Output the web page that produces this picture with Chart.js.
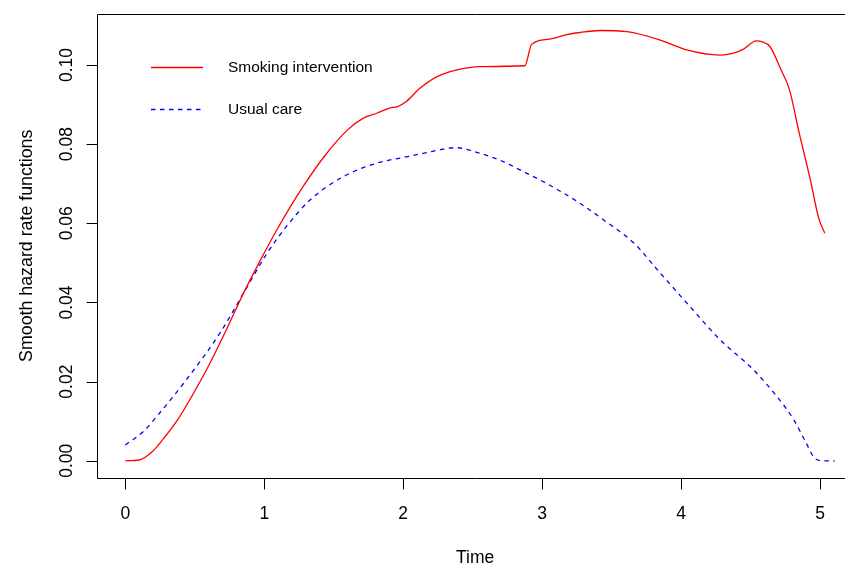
<!DOCTYPE html>
<html>
<head>
<meta charset="utf-8">
<script src="https://cdn.jsdelivr.net/npm/chart.js@4/dist/chart.umd.min.js"></script>
<style>
  html, body { margin: 0; padding: 0; background: #fff; }
  #wrap { width: 845px; height: 566px; overflow: hidden; position: relative; background: #fff; }
  canvas { display: block; }
</style>
</head>
<body>
<div id="wrap"><canvas id="c" width="870" height="566"></canvas></div>
<script>
// ---- Data ----
const smokingTime = [0, 0.1, 0.2, 0.25, 0.37, 0.49, 0.61, 0.73, 0.85, 0.97, 1.09, 1.28, 1.45, 1.6, 1.71, 1.81, 1.9, 1.96, 2.02, 2.12, 2.24, 2.38, 2.55, 2.876, 2.924, 3.05, 3.17, 3.27, 3.42, 3.61, 3.85, 4.04, 4.28, 4.37, 4.45, 4.54, 4.58, 4.64, 4.72, 4.78, 4.85, 4.93, 4.99, 5.034];
const smokingHazard = [0, 0.0002, 0.0025, 0.0045, 0.0100, 0.0170, 0.0247, 0.0333, 0.0423, 0.0505, 0.0583, 0.0693, 0.0777, 0.0836, 0.0865, 0.0878, 0.0891, 0.0895, 0.0907, 0.0941, 0.0970, 0.0987, 0.0996, 0.0998, 0.1052, 0.1065, 0.1076, 0.1082, 0.1087, 0.1084, 0.1063, 0.1038, 0.1025, 0.1029, 0.1040, 0.1061, 0.1059, 0.1046, 0.0987, 0.0937, 0.0828, 0.0710, 0.0613, 0.0575];

const usualTime = [0, 0.13, 0.25, 0.44, 0.68, 0.85, 1.02, 1.16, 1.33, 1.57, 1.81, 2.01, 2.15, 2.38, 2.55, 2.72, 2.84, 3.03, 3.27, 3.44, 3.66, 3.85, 4.04, 4.28, 4.52, 4.69, 4.81, 4.90, 4.96, 5.02, 5.106];
const usualHazard = [0.0040, 0.0074, 0.0122, 0.0205, 0.0322, 0.0423, 0.0524, 0.0592, 0.0659, 0.0718, 0.0752, 0.0767, 0.0777, 0.0791, 0.0777, 0.0756, 0.0735, 0.0701, 0.0651, 0.0609, 0.0550, 0.0474, 0.0399, 0.0306, 0.0230, 0.0162, 0.0104, 0.0045, 0.0007, 0, 0];

const xTicks = [0, 1, 2, 3, 4, 5];
const xTickLabels = ['0', '1', '2', '3', '4', '5'];
const yTicks = [0, 0.02, 0.04, 0.06, 0.08, 0.10];
const yTickLabels = ['0.00', '0.02', '0.04', '0.06', '0.08', '0.10'];

const seriesNames = ['Smoking intervention', 'Usual care'];
const seriesColors = ['#ff0000', '#0000ff'];
const xTitle = 'Time';
const yTitle = 'Smooth hazard rate functions';

// ---- Build ----
const toPts = (xs, ys) => xs.map((x, i) => ({ x: x, y: ys[i] }));

const FONT = '"Liberation Sans", Arial, Helvetica, sans-serif';

const rAxes = {
  id: 'rAxes',
  afterDraw(chart) {
    const ctx = chart.ctx;
    const a = chart.chartArea;
    const xs = chart.scales.x, ys = chart.scales.y;
    ctx.save();
    ctx.setLineDash([]);
    ctx.strokeStyle = '#000';
    ctx.fillStyle = '#000';
    ctx.lineWidth = 1;
    // box
    const L = Math.round(a.left) + 0.5, T = Math.round(a.top) + 0.5, B = Math.round(a.bottom) + 0.5, R = Math.round(a.right) + 0.5;
    ctx.beginPath();
    ctx.rect(L, T, R - L, B - T);
    ctx.stroke();
    // x ticks
    ctx.font = '17.5px ' + FONT;
    ctx.textAlign = 'center';
    ctx.textBaseline = 'alphabetic';
    xTicks.forEach((v, i) => {
      const px = Math.round(xs.getPixelForValue(v)) + 0.5;
      ctx.beginPath(); ctx.moveTo(px, B); ctx.lineTo(px, B + 11); ctx.stroke();
      ctx.fillText(xTickLabels[i], xs.getPixelForValue(v), 519);
    });
    // y ticks
    yTicks.forEach((v, i) => {
      const py = Math.round(ys.getPixelForValue(v)) + 0.5;
      ctx.beginPath(); ctx.moveTo(L, py); ctx.lineTo(L - 11, py); ctx.stroke();
      ctx.save();
      ctx.translate(71.5, ys.getPixelForValue(v));
      ctx.rotate(-Math.PI / 2);
      ctx.fillText(yTickLabels[i], 0, 0);
      ctx.restore();
    });
    // axis titles
    ctx.fillText(xTitle, (a.left + a.right) / 2, 563);
    ctx.save();
    ctx.translate(31.5, (a.top + a.bottom) / 2);
    ctx.rotate(-Math.PI / 2);
    ctx.font = '17.8px ' + FONT;
    ctx.fillText(yTitle, 0, 0);
    ctx.restore();
    ctx.restore();

    // legend
    ctx.save();
    ctx.font = '15.5px ' + FONT;
    ctx.textAlign = 'left';
    ctx.textBaseline = 'middle';
    ctx.lineWidth = 1.3;
    ctx.setLineDash([]);
    ctx.strokeStyle = seriesColors[0];
    ctx.beginPath(); ctx.moveTo(151, 67.5); ctx.lineTo(203, 67.5); ctx.stroke();
    ctx.fillStyle = '#000';
    ctx.fillText(seriesNames[0], 228, 68);
    ctx.strokeStyle = seriesColors[1];
    ctx.setLineDash([4.5, 4.5]);
    ctx.beginPath(); ctx.moveTo(151, 109.5); ctx.lineTo(203, 109.5); ctx.stroke();
    ctx.setLineDash([]);
    ctx.fillText(seriesNames[1], 228, 109.5);
    ctx.restore();
  }
};

new Chart(document.getElementById('c'), {
  type: 'line',
  data: {
    datasets: [
      {
        label: seriesNames[0],
        data: toPts(smokingTime, smokingHazard),
        borderColor: seriesColors[0],
        borderWidth: 1.3,
        pointRadius: 0,
        fill: false,
        cubicInterpolationMode: 'monotone'
      },
      {
        label: seriesNames[1],
        data: toPts(usualTime, usualHazard),
        borderColor: seriesColors[1],
        borderWidth: 1.3,
        borderDash: [4.5, 4.5],
        pointRadius: 0,
        fill: false,
        cubicInterpolationMode: 'monotone'
      }
    ]
  },
  options: {
    responsive: false,
    animation: false,
    devicePixelRatio: 1,
    layout: { padding: { left: 97.3, top: 13.5, right: 870 - 853, bottom: 566 - 478 } },
    plugins: { legend: { display: false }, tooltip: { enabled: false } },
    scales: {
      x: { type: 'linear', min: -0.2014, max: 5.237, display: false },
      y: { type: 'linear', min: -0.00435, max: 0.1130, display: false }
    }
  },
  plugins: [rAxes]
});
</script>
</body>
</html>
